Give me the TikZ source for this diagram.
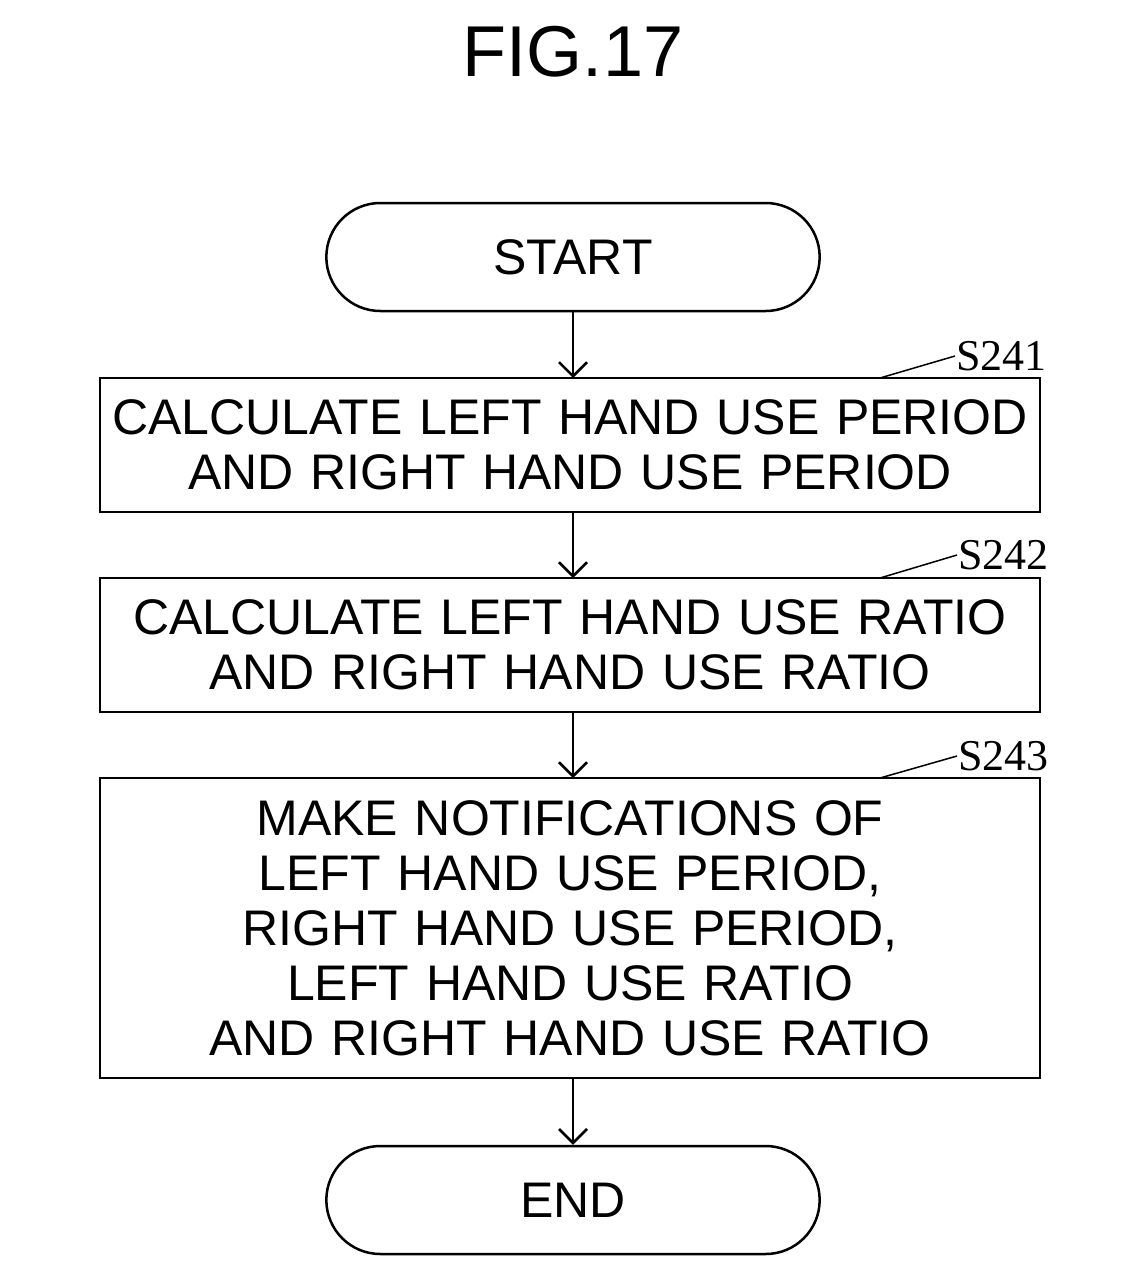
\documentclass[tikz,border=0pt]{standalone}
\usepackage{fontspec}
\setmainfont{Liberation Sans}
\newfontfamily\lblfont{Liberation Serif}
\usetikzlibrary{arrows.meta,shapes.misc}
\begin{document}
\begin{tikzpicture}[x=1pt,y=-1pt,
  every path/.style={line width=2.5pt},
  box/.style={draw,line width=2.5pt,inner sep=0pt,font=\fontsize{50}{55}\selectfont,align=center,text width=940pt,minimum width=940pt},
  term/.style={draw,line width=2.5pt,rounded rectangle,minimum width=500pt,minimum height=108pt,font=\fontsize{50}{55}\selectfont},
  arr/.style={-{Straight Barb[length=14pt,width=28pt,line width=2.5pt]}},
  lbl/.style={font=\lblfont\fontsize{44}{44}\selectfont,anchor=west,inner sep=0pt}]
\useasboundingbox (0,0) rectangle (1146,1280);
\node[font=\fontsize{72}{72}\selectfont] (title) at (573,52) {FIG.17};
\node[term] (start) at (573,257) {START};
\node[box,minimum height=134pt] (s1) at (570,445) {CALCULATE LEFT HAND USE PERIOD\\AND RIGHT HAND USE PERIOD};
\node[box,minimum height=134pt] (s2) at (570,645) {CALCULATE LEFT HAND USE RATIO\\AND RIGHT HAND USE RATIO};
\node[box,minimum height=300pt] (s3) at (570,928) {MAKE NOTIFICATIONS OF\\LEFT HAND USE PERIOD,\\RIGHT HAND USE PERIOD,\\LEFT HAND USE RATIO\\AND RIGHT HAND USE RATIO};
\node[term] (end) at (573,1200) {END};
\draw[arr] (start.south) -- (573,378);
\draw[arr] (573,512) -- (573,578);
\draw[arr] (573,712) -- (573,778);
\draw[arr] (573,1078) -- (end.north);
\node[lbl] (l1) at (955,356) {S241};
\node[lbl] (l2) at (957,555) {S242};
\node[lbl] (l3) at (957,756) {S243};
\draw[line width=1.5pt] (880,378) -- (l1.west);
\draw[line width=1.5pt] (880,578) -- (l2.west);
\draw[line width=1.5pt] (880,778) -- (l3.west);
\end{tikzpicture}
\end{document}
